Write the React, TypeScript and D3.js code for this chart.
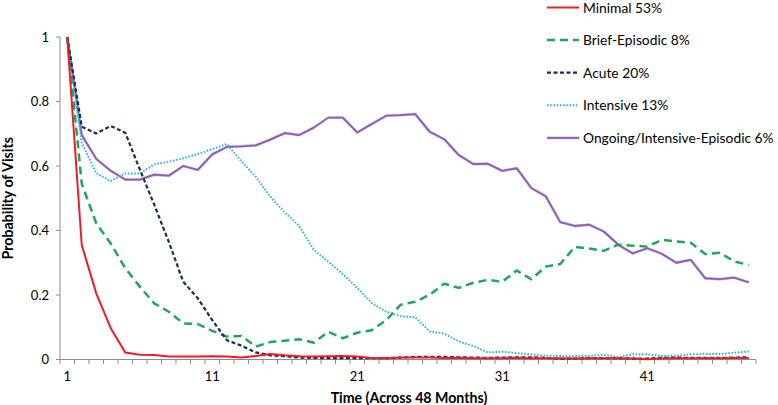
import React from "react";
import * as d3 from "d3";

const months: number[] = d3.range(1, 49);
const xTickLabels: number[] = [1, 11, 21, 31, 41];
const yTickValues: number[] = [0, 0.2, 0.4, 0.6, 0.8, 1];

const minimal: number[] = [1.0, 0.355, 0.205, 0.097, 0.022, 0.015, 0.014, 0.009, 0.009, 0.009, 0.01, 0.009, 0.006, 0.011, 0.017, 0.013, 0.01, 0.009, 0.01, 0.011, 0.009, 0.005, 0.005, 0.006, 0.006, 0.006, 0.005, 0.005, 0.004, 0.004, 0.004, 0.005, 0.004, 0.004, 0.004, 0.003, 0.004, 0.004, 0.004, 0.003, 0.001, 0.003, 0.004, 0.004, 0.004, 0.004, 0.005, 0.005];
const briefEpisodic: number[] = [1.0, 0.545, 0.422, 0.36, 0.283, 0.226, 0.174, 0.148, 0.112, 0.11, 0.089, 0.071, 0.073, 0.04, 0.054, 0.058, 0.063, 0.052, 0.086, 0.066, 0.083, 0.091, 0.122, 0.17, 0.179, 0.201, 0.235, 0.222, 0.238, 0.247, 0.241, 0.276, 0.249, 0.288, 0.296, 0.349, 0.344, 0.337, 0.356, 0.353, 0.35, 0.371, 0.366, 0.362, 0.327, 0.331, 0.304, 0.293];
const acute: number[] = [1.0, 0.722, 0.701, 0.724, 0.703, 0.59, 0.48, 0.365, 0.241, 0.19, 0.122, 0.06, 0.043, 0.022, 0.013, 0.01, 0.006, 0.005, 0.004, 0.004, 0.004, 0.004, 0.004, 0.006, 0.008, 0.008, 0.008, 0.007, 0.006, 0.005, 0.006, 0.007, 0.007, 0.005, 0.002, 0.003, 0.004, 0.004, 0.004, 0.003, 0.003, 0.005, 0.006, 0.005, 0.005, 0.005, 0.006, 0.007];
const intensive: number[] = [1.0, 0.672, 0.578, 0.553, 0.577, 0.577, 0.605, 0.613, 0.624, 0.637, 0.652, 0.668, 0.615, 0.567, 0.505, 0.456, 0.414, 0.34, 0.303, 0.265, 0.222, 0.175, 0.148, 0.134, 0.131, 0.087, 0.08, 0.056, 0.042, 0.022, 0.024, 0.02, 0.016, 0.012, 0.011, 0.011, 0.011, 0.015, 0.008, 0.016, 0.016, 0.011, 0.012, 0.016, 0.017, 0.017, 0.021, 0.025];
const ongoing: number[] = [1.0, 0.696, 0.622, 0.585, 0.558, 0.558, 0.573, 0.57, 0.6, 0.588, 0.636, 0.659, 0.661, 0.664, 0.682, 0.702, 0.696, 0.719, 0.75, 0.75, 0.704, 0.73, 0.756, 0.758, 0.761, 0.706, 0.683, 0.634, 0.606, 0.607, 0.585, 0.593, 0.532, 0.506, 0.426, 0.414, 0.418, 0.397, 0.356, 0.329, 0.345, 0.328, 0.3, 0.309, 0.252, 0.249, 0.254, 0.239];

const seriesNames: string[] = ["Minimal 53%", "Brief-Episodic 8%", "Acute 20%", "Intensive 13%", "Ongoing/Intensive-Episodic 6%"];

type Style = { color: string; width: number; dash?: string; halo?: string };
const styles: Style[] = [
  { color: "#ee1c24", width: 2 },
  { color: "#1fa85a", width: 2.5, dash: "8 5" },
  { color: "#1a2b5e", width: 2.2, dash: "4 2.5" },
  { color: "#2db4e3", width: 2, dash: "1.6 1.6" },
  { color: "#8a5cb2", width: 1.8, halo: "#d6c3e8" },
];

const W = 778;
const H = 405;
const left = 60;
const right = 756;
const top = 37;
const bottom = 359.5;

export default function App() {
  const data = [minimal, briefEpisodic, acute, intensive, ongoing];
  const x = d3.scaleLinear().domain([0.5, months.length + 0.5]).range([left, right]);
  const y = d3.scaleLinear().domain([0, 1]).range([bottom, top]);
  const line = d3
    .line<number>()
    .x((_, i) => x(months[i]))
    .y((d) => y(d));
  const boundaries = d3.range(0, months.length + 1).map((k) => k + 0.5);
  const font = "Lato, 'Open Sans', sans-serif";
  const axisColor = "#8c8c8c";

  const drawOrder = [4, 3, 1, 2, 0];
  const legendX1 = 547;
  const legendX2 = 579;
  const legendTextX = 583;
  const legendBase = 12.5;
  const legendStep = 32.6;

  return (
    <svg
      width={W}
      height={H}
      style={{ position: "absolute", left: 0, top: 0, background: "#fff" }}
      fontFamily={font}
    >
      <rect x={0} y={0} width={W} height={H} fill="#fff" />
      <line x1={left} x2={left} y1={top} y2={bottom} stroke={axisColor} strokeWidth={1} />
      {yTickValues.map((v) => (
        <g key={"yt" + v}>
          <line x1={left - 4} x2={left} y1={y(v)} y2={y(v)} stroke={axisColor} />
          <text x={49} y={y(v)} dy="0.35em" textAnchor="end" fontSize={13} fill="#000">
            {String(v)}
          </text>
        </g>
      ))}
      <line x1={left} x2={right} y1={bottom} y2={bottom} stroke={axisColor} strokeWidth={1} />
      {boundaries.map((b) => (
        <line key={"xt" + b} x1={x(b)} x2={x(b)} y1={bottom} y2={bottom + 4.5} stroke={axisColor} />
      ))}
      {xTickLabels.map((m) => (
        <text key={"xl" + m} x={x(m)} y={381} textAnchor="middle" fontSize={13} fill="#000">
          {m}
        </text>
      ))}
      <text x={409} y={402.5} textAnchor="middle" fontSize={14.2} fontWeight="bold" fill="#000">
        Time (Across 48 Months)
      </text>
      <text
        transform={`translate(13, ${(top + bottom) / 2}) rotate(-90)`}
        textAnchor="middle"
        fontSize={14.2}
        fontWeight="bold"
        fill="#000"
      >
        Probability of Visits
      </text>
      {drawOrder.map((si) => {
        const s = styles[si];
        const path = line(data[si]) || "";
        return (
          <g key={"s" + si}>
            {s.halo && (
              <path d={path} fill="none" stroke={s.halo} strokeWidth={s.width + 1.2} strokeLinejoin="round" />
            )}
            <path
              d={path}
              fill="none"
              stroke={s.color}
              strokeWidth={s.width}
              strokeDasharray={s.dash}
              strokeLinejoin="round"
            />
          </g>
        );
      })}
      {seriesNames.map((name, i) => {
        const s = styles[i];
        const yb = legendBase + i * legendStep;
        const yl = yb - 5;
        return (
          <g key={"lg" + i}>
            {s.halo && <line x1={legendX1} x2={legendX2} y1={yl} y2={yl} stroke={s.halo} strokeWidth={s.width + 1.2} />}
            <line x1={legendX1} x2={legendX2} y1={yl} y2={yl} stroke={s.color} strokeWidth={s.width} strokeDasharray={s.dash} />
            <text x={legendTextX} y={yb} fontSize={13.8} fill="#000">
              {name}
            </text>
          </g>
        );
      })}
    </svg>
  );
}
